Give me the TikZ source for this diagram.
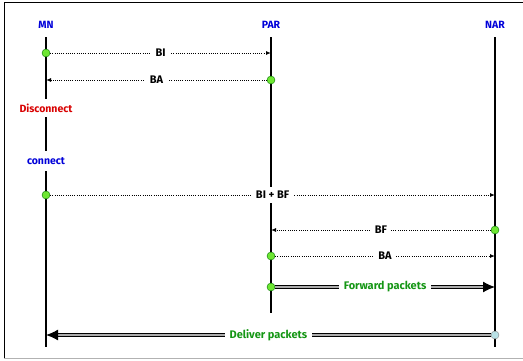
\documentclass[tikz,border=0pt]{standalone}
\usepackage{fontspec}
\setmainfont{Fira Sans}
\usetikzlibrary{arrows.meta}

\definecolor{msggreen}{RGB}{20,150,20}
\definecolor{dotgreen}{RGB}{110,230,50}
\definecolor{dotblue}{RGB}{185,225,230}

\begin{document}
\begin{tikzpicture}[x=1pt, y=-1pt,
	entity/.style={text=blue!85!black, font=\fontsize{10.5}{12}\bfseries},
	lifeline/.style={line width=1.4pt},
	event/.style={circle, draw=green!45!black, fill=dotgreen, line width=0.4pt, minimum size=8pt, inner sep=0pt},
	msg/.style={dash pattern=on 0.9pt off 1.3pt, line width=0.9pt, -{Latex[length=5pt,width=4pt]}},
	msglabel/.style={fill=white, font=\fontsize{11}{13}\bfseries, inner sep=4.5pt},
	flow/.style={line width=1.2pt, double=gray!65, double distance=1.6pt, -{Latex[length=12pt,width=11pt]}},
	flowlabel/.style={fill=white, text=msggreen, font=\fontsize{11}{13}\bfseries, inner sep=5pt}
	]

	\useasboundingbox (0,0) rectangle (523,360);

	%outer frame
	\draw[line width=0.8pt] (4,358) -- (4,2) -- (523,2);
	\draw[gray!60, line width=0.8pt] (4,358) -- (523,358);

	%entities and their lifelines
	\node[entity] (MN) at (46,25) {MN};
	\node[entity] (PAR) at (271,25) {PAR};
	\node[entity] (NAR) at (495,25) {NAR};
	\coordinate (MN-top) at (46,37);
	\coordinate (MN-bot) at (46,347);
	\coordinate (PAR-top) at (271,37);
	\coordinate (PAR-bot) at (271,313);
	\coordinate (NAR-top) at (495,37);
	\coordinate (NAR-bot) at (495,347);
	\draw[lifeline] (MN-top) -- (MN-bot);
	\draw[lifeline] (PAR-top) -- (PAR-bot);
	\draw[lifeline] (NAR-top) -- (NAR-bot);

	%state changes of the MN
	\node[fill=white, text=red!85!black, font=\fontsize{10.5}{12}\bfseries, inner sep=5pt] (disc) at (46,108) {Disconnect};
	\node[fill=white, text=blue!85!black, font=\fontsize{10.5}{12}\bfseries, inner sep=6pt] (conn) at (46,161) {connect};

	%events on the lifelines
	\node[event] (mn-bi) at (46,53) {};
	\coordinate (par-bi) at (271,53);
	\node[event] (par-ba) at (271,80) {};
	\coordinate (mn-ba) at (46,80);
	\node[event] (mn-bf) at (46,195) {};
	\coordinate (nar-bf) at (495,195);
	\node[event] (nar-f) at (495,230) {};
	\coordinate (par-f) at (271,230);
	\node[event] (par-a) at (271,256) {};
	\coordinate (nar-a) at (495,256);
	\node[event] (par-fw) at (271,287) {};
	\coordinate (nar-fw) at (495,287);
	\node[event, draw=gray, fill=dotblue] (nar-dl) at (495,335) {};
	\coordinate (mn-dl) at (46,335);

	%signalling messages
	\draw[msg] (mn-bi) -- node[msglabel] {BI} (par-bi);
	\draw[msg] (par-ba) -- node[msglabel] {BA} (mn-ba);
	\draw[msg] (mn-bf) -- node[msglabel] {BI + BF} (nar-bf);
	\draw[msg] (nar-f) -- node[msglabel] {BF} (par-f);
	\draw[msg] (par-a) -- node[msglabel] {BA} (nar-a);

	%data packets
	\draw[flow] (par-fw) -- node[flowlabel] {Forward packets} (nar-fw);
	\draw[flow] (nar-dl) -- node[flowlabel] {Deliver packets} (mn-dl);

\end{tikzpicture}
\end{document}
